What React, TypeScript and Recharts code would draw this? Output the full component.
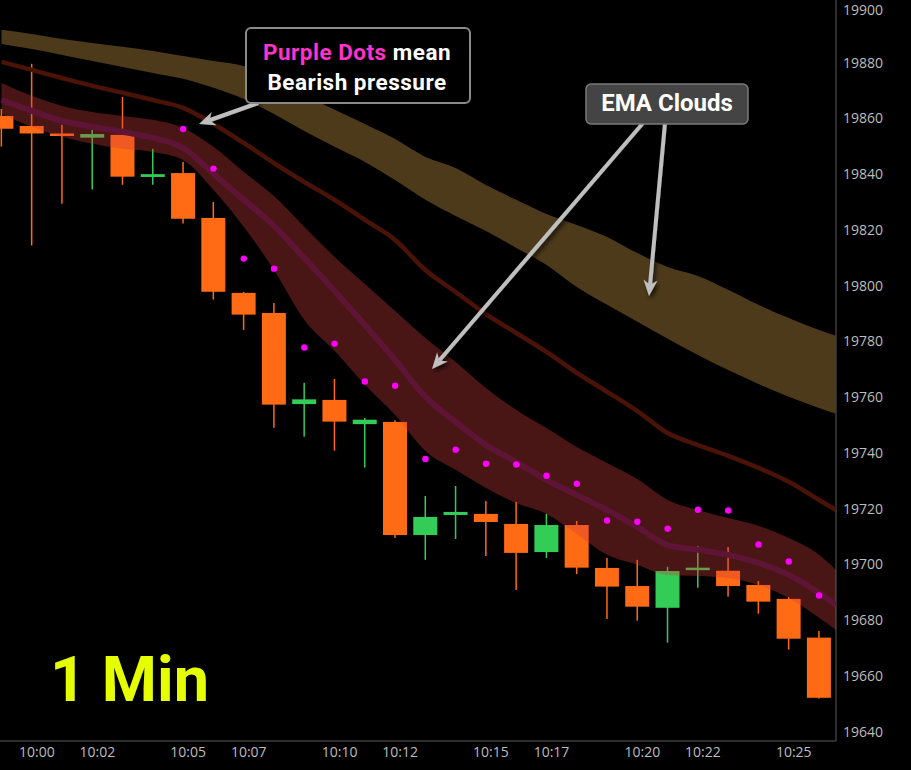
import React from 'react';
import { ComposedChart, Bar, Area, Line, XAxis, YAxis } from 'recharts';

// one candle per minute, 9:59 .. 10:26
const minutes = [
  '9:59', '10:00', '10:01', '10:02', '10:03', '10:04', '10:05', '10:06', '10:07', '10:08',
  '10:09', '10:10', '10:11', '10:12', '10:13', '10:14', '10:15', '10:16', '10:17', '10:18',
  '10:19', '10:20', '10:21', '10:22', '10:23', '10:24', '10:25', '10:26',
];
const xTickLabels = ['10:00', '10:02', '10:05', '10:07', '10:10', '10:12', '10:15', '10:17', '10:20', '10:22', '10:25'];
const yTicks = [19640, 19660, 19680, 19700, 19720, 19740, 19760, 19780, 19800, 19820, 19840, 19860, 19880, 19900];

const openP = [
  19860.7, 19857.1, 19854.4, 19852.9, 19853.9, 19838.8, 19840.2, 19824.1, 19797.2, 19790.0,
  19757.3, 19758.8, 19750.1, 19750.9, 19710.3, 19717.5, 19717.9, 19714.3, 19704.2, 19713.9,
  19698.5, 19692.0, 19684.2, 19697.8, 19697.5, 19692.4, 19687.4, 19673.5,
];
const highP = [
  19863.2, 19879.4, 19857.5, 19855.7, 19867.5, 19848.9, 19844.2, 19829.8, 19797.5, 19793.6,
  19764.9, 19766.3, 19752.3, 19751.5, 19724.3, 19727.9, 19722.5, 19722.2, 19717.9, 19715.4,
  19702.1, 19701.4, 19698.9, 19706.4, 19706.0, 19693.8, 19688.1, 19675.9,
];
const lowP = [
  19849.7, 19814.2, 19829.2, 19834.3, 19836.0, 19836.0, 19822.1, 19794.8, 19783.9, 19748.8,
  19745.6, 19740.6, 19734.5, 19709.3, 19701.4, 19708.9, 19702.8, 19690.6, 19702.1, 19696.3,
  19680.2, 19679.6, 19671.7, 19691.4, 19688.2, 19682.1, 19669.2, 19651.6,
];
const closeP = [
  19856.1, 19854.4, 19853.5, 19854.2, 19838.9, 19839.8, 19823.8, 19797.6, 19789.4, 19757.1,
  19759.0, 19751.0, 19751.7, 19710.3, 19716.8, 19718.6, 19715.0, 19703.9, 19713.9, 19698.6,
  19691.8, 19684.6, 19697.4, 19698.5, 19692.0, 19686.4, 19673.1, 19651.9,
];

// purple "bearish pressure" dots
const bearDots = [
  null, null, null, null, null, null, 19856.0, 19841.8, 19809.5, 19805.9,
  19777.6, 19779.0, 19765.4, 19763.9, 19737.6, 19740.9, 19735.9, 19735.6, 19731.6, 19728.7,
  19715.5, 19715.1, 19712.6, 19719.4, 19719.1, 19706.9, 19700.8, 19688.6,
];

// EMA clouds: one value per candle plus one at the right edge of the plot
const slowTop = [
  19891.6, 19890.1, 19888.3, 19886.9, 19885.5, 19884.0, 19882.2, 19880.4, 19878.6, 19873.6,
  19868.2, 19862.9, 19857.8, 19852.4, 19846.0, 19842.0, 19835.9, 19830.6, 19825.5, 19821.6,
  19817.3, 19811.5, 19806.5, 19803.3, 19798.3, 19792.9, 19788.2, 19783.9, 19781.8,
];
const slowBottom = [
  19886.5, 19884.7, 19882.6, 19880.4, 19878.3, 19876.1, 19874.0, 19870.8, 19866.8, 19861.4,
  19855.3, 19849.6, 19844.2, 19837.7, 19830.6, 19824.8, 19819.4, 19813.3, 19807.2, 19799.3,
  19792.9, 19786.8, 19780.7, 19774.9, 19769.5, 19764.5, 19759.9, 19755.9, 19753.8,
];
const midEma = [
  19880.1, 19877.2, 19874.3, 19871.5, 19869.0, 19866.4, 19863.6, 19857.8, 19851.0, 19843.8,
  19837.0, 19830.6, 19823.4, 19816.2, 19805.4, 19797.5, 19789.6, 19782.8, 19776.0, 19768.5,
  19761.7, 19754.8, 19746.9, 19742.6, 19738.7, 19734.4, 19729.4, 19722.9, 19719.3,
];
const fastTop = [
  19872.5, 19867.9, 19864.3, 19862.1, 19860.7, 19859.3, 19856.4, 19849.6, 19840.6, 19832.0,
  19820.9, 19810.1, 19800.4, 19790.7, 19781.0, 19772.4, 19763.1, 19755.2, 19748.7, 19741.9,
  19736.2, 19730.4, 19722.9, 19719.3, 19716.4, 19713.6, 19709.2, 19703.2, 19697.8,
];
const fastMid = [
  19866.4, 19862.5, 19858.9, 19856.8, 19855.0, 19852.8, 19849.2, 19839.9, 19830.6, 19821.2,
  19809.7, 19797.9, 19785.7, 19773.1, 19759.9, 19750.9, 19742.6, 19736.5, 19730.1, 19724.7,
  19719.3, 19713.2, 19706.7, 19705.0, 19703.2, 19700.3, 19696.0, 19689.5, 19685.2,
];
const fastBottom = [
  19861.4, 19856.8, 19853.2, 19850.7, 19848.9, 19847.8, 19844.9, 19834.1, 19820.9, 19805.4,
  19787.5, 19776.4, 19764.2, 19753.4, 19740.5, 19733.7, 19727.2, 19721.8, 19717.9, 19710.7,
  19703.2, 19699.6, 19696.0, 19695.6, 19694.9, 19692.4, 19687.7, 19680.6, 19676.2,
];

const W = 911;
const H = 770;
const X_MIN = -0.05;
const X_MAX = 27.56;
const Y_MIN = 19636.4;
const Y_MAX = 19902.3;
const AXIS_W = 75;
const AXIS_H = 29;

const ORANGE = '#ff6a14';
const GREEN = '#33cc57';
const AXIS_COLOR = '#5a5a5a';
const LABEL_COLOR = '#bdbdbd';
const FONT = '"Open Sans", "Noto Sans", sans-serif';

const candles = minutes.map((t, i) => ({
  i,
  time: t,
  open: openP[i],
  high: highP[i],
  low: lowP[i],
  close: closeP[i],
}));

const clouds = slowTop.map((_, i) => ({
  i: i < minutes.length ? i : X_MAX,
  slow: [slowBottom[i], slowTop[i]],
  mid: midEma[i],
  fast: [fastBottom[i], fastTop[i]],
  fastMid: fastMid[i],
  dot: i < minutes.length ? bearDots[i] : null,
}));

const tickIdx = xTickLabels.map((l) => minutes.indexOf(l));

const Candle = (props: any) => {
  const { x, y, width, height, payload } = props;
  if (!payload || payload.high == null) return null;
  const { open, close, high, low } = payload;
  const top = Math.min(y, y + height);
  const bot = Math.max(y, y + height);
  const k = (bot - top) / (high - low || 1);
  const py = (v: number) => top + (high - v) * k;
  const color = close >= open ? GREEN : ORANGE;
  const cx = x + width / 2;
  let bTop = py(Math.max(open, close));
  let bBot = py(Math.min(open, close));
  if (bBot - bTop < 2.5) {
    const m = (bTop + bBot) / 2;
    bTop = m - 1.25;
    bBot = m + 1.25;
  }
  return (
    <g>
      <rect x={cx - 0.75} y={top} width={1.5} height={bot - top} fill={color} />
      <rect x={x} y={bTop} width={width} height={bBot - bTop} fill={color} />
    </g>
  );
};

const XTick = ({ x, y, payload }: any) => (
  <text x={x + 5} y={y + 16} textAnchor="middle" fill={LABEL_COLOR} fontSize={14} fontFamily={FONT}>
    {minutes[payload.value]}
  </text>
);

// the top label sits against the edge of the picture; keep its box inside
const YTick = ({ x, y, payload }: any) => (
  <text x={x + 7} y={Math.max(y, 9.5)} dy="0.4em" textAnchor="start" fill={LABEL_COLOR} fontSize={14} fontFamily={FONT}>
    {payload.value}
  </text>
);

const Arrow = ({ x1, y1, x2, y2 }: { x1: number; y1: number; x2: number; y2: number }) => {
  const dx = x2 - x1;
  const dy = y2 - y1;
  const len = Math.hypot(dx, dy);
  const ux = dx / len;
  const uy = dy / len;
  const nx = -uy;
  const ny = ux;
  const L = 16;
  const hw = 7;
  const bx = x2 - ux * L;
  const by = y2 - uy * L;
  const nX = x2 - ux * L * 0.7;
  const nY = y2 - uy * L * 0.7;
  const pts = `${x2},${y2} ${bx + nx * hw},${by + ny * hw} ${nX},${nY} ${bx - nx * hw},${by - ny * hw}`;
  return (
    <g filter="url(#arrowShadow)">
      <line x1={x1} y1={y1} x2={nX} y2={nY} stroke="#bfbfbf" strokeWidth={4} />
      <polygon points={pts} fill="#bfbfbf" />
    </g>
  );
};

const Annotations = () => (
  <svg width={W} height={H} style={{ position: 'absolute', left: 0, top: 0, pointerEvents: 'none' }}>
    <defs>
      <filter id="arrowShadow" x="-20%" y="-20%" width="140%" height="140%">
        <feDropShadow dx="2" dy="3" stdDeviation="2" floodColor="#000" floodOpacity="0.7" />
      </filter>
    </defs>
    <Arrow x1={258} y1={103} x2={199} y2={124} />
    <Arrow x1={643} y1={123} x2={432} y2={369} />
    <Arrow x1={665} y1={123} x2={649} y2={296} />

    <rect x={246} y={28} width={224} height={75} rx={5} fill="#000" stroke="#8a8a8a" strokeWidth={2} />
    <text x={357} y={60} textAnchor="middle" fontFamily="Roboto, sans-serif" fontWeight={700} fontSize={22.5} letterSpacing={0.5} fill="#fff">
      <tspan fill="#ff33cc">Purple Dots</tspan> mean
    </text>
    <text x={357} y={89.5} textAnchor="middle" fontFamily="Roboto, sans-serif" fontWeight={700} fontSize={22.5} letterSpacing={0.5} fill="#fff">
      Bearish pressure
    </text>

    <rect x={586} y={84} width={162} height={40} rx={5} fill="#444" stroke="#7a7a7a" strokeWidth={1.5} />
    <text x={667} y={110.5} textAnchor="middle" fontFamily="Roboto, sans-serif" fontWeight={700} fontSize={24} fill="#fff">
      EMA Clouds
    </text>

    <text x={50} y={701} fontFamily="Roboto, sans-serif" fontWeight={700} fontSize={63} fill="#e6ff00">
      1 Min
    </text>
  </svg>
);

export default function App() {
  return (
    <div style={{ position: 'fixed', left: 0, top: 0, width: W, height: H, background: '#000', overflow: 'hidden', pointerEvents: 'none' }}>
      {/* candles and axes */}
      <div style={{ position: 'absolute', left: 0, top: 0 }}>
        <ComposedChart width={W} height={H} data={candles} margin={{ top: 0, right: 0, bottom: 0, left: 0 }}>
          <XAxis
            dataKey="i"
            type="number"
            domain={[X_MIN, X_MAX]}
            allowDataOverflow
            ticks={tickIdx}
            interval={0}
            height={AXIS_H}
            tickSize={0}
            tickMargin={0}
            tick={<XTick />}
            axisLine={{ stroke: AXIS_COLOR }}
          />
          <YAxis
            orientation="right"
            type="number"
            domain={[Y_MIN, Y_MAX]}
            allowDataOverflow
            ticks={yTicks}
            interval={0}
            width={AXIS_W}
            tickSize={0}
            tickMargin={0}
            tick={<YTick />}
            axisLine={{ stroke: AXIS_COLOR }}
          />
          <Bar
            dataKey={(d: any) => [d.low, d.high]}
            barSize={24}
            shape={<Candle />}
            activeBar={false}
            isAnimationActive={false}
          />
        </ComposedChart>
      </div>

      {/* EMA clouds and dots, drawn over the candles */}
      <div style={{ position: 'absolute', left: 0, top: 0 }}>
        <ComposedChart width={W} height={H} data={clouds} margin={{ top: 0, right: AXIS_W, bottom: AXIS_H, left: 0 }}>
          <XAxis dataKey="i" type="number" domain={[X_MIN, X_MAX]} allowDataOverflow hide />
          <YAxis type="number" domain={[Y_MIN, Y_MAX]} allowDataOverflow hide />
          <Area
            type="monotone"
            dataKey="slow"
            stroke="none"
            fill="#4d3a1a"
            fillOpacity={1}
            activeDot={false}
            isAnimationActive={false}
          />
          <Area
            type="monotone"
            dataKey="fast"
            stroke="none"
            fill="rgb(211,60,60)"
            fillOpacity={0.35}
            activeDot={false}
            isAnimationActive={false}
          />
          <Line
            type="monotone"
            dataKey="mid"
            stroke="#4b1208"
            strokeWidth={4.5}
            dot={false}
            activeDot={false}
            isAnimationActive={false}
          />
          <Line
            type="monotone"
            dataKey="fastMid"
            stroke="#5e1434"
            strokeWidth={6}
            dot={false}
            activeDot={false}
            isAnimationActive={false}
          />
          <Line
            dataKey="dot"
            stroke="none"
            dot={{ r: 3.2, fill: '#ff00ff', stroke: 'none' }}
            activeDot={false}
            isAnimationActive={false}
          />
        </ComposedChart>
      </div>

      <Annotations />
    </div>
  );
}
